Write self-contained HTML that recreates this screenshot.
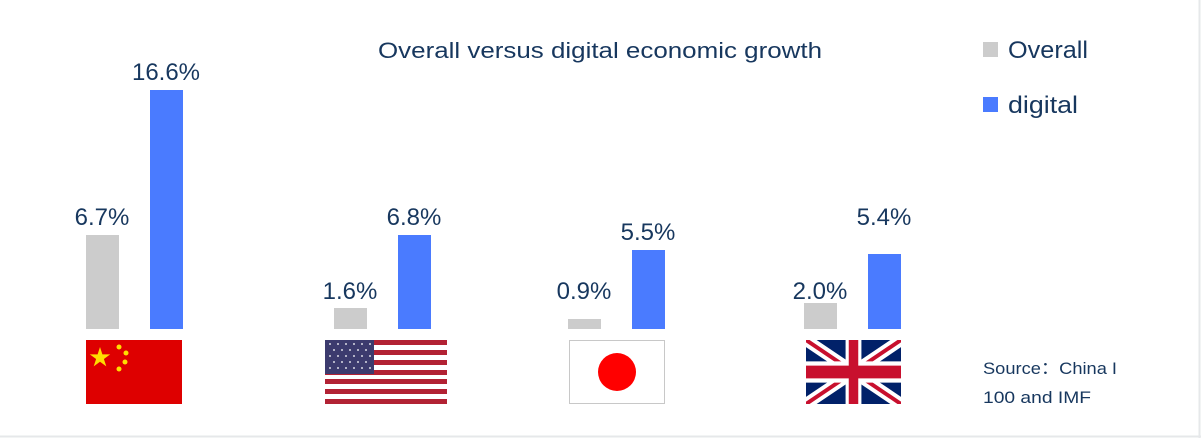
<!DOCTYPE html>
<html><head><style>
html,body{margin:0;padding:0;background:#fff;}
svg{display:block;}
text{font-family:"Liberation Sans",sans-serif;fill:#17375e;}
</style></head><body>
<svg width="1201" height="438" viewBox="0 0 1201 438" xmlns="http://www.w3.org/2000/svg">
<rect x="0" y="0" width="1201" height="438" fill="#fff"/>
<line x1="0" y1="436.5" x2="1201" y2="436.5" stroke="#e6e8ea" stroke-width="2"/>
<line x1="1199.5" y1="0" x2="1199.5" y2="438" stroke="#e6e8ea" stroke-width="2"/>
<text x="378" y="58" font-size="22" textLength="444" lengthAdjust="spacingAndGlyphs">Overall versus digital economic growth</text>
<!-- legend -->
<rect x="983" y="42" width="15" height="15" fill="#cccccc"/>
<text x="1008" y="58" font-size="24" textLength="80" lengthAdjust="spacingAndGlyphs">Overall</text>
<rect x="983" y="97" width="15" height="15" fill="#4a7bff"/>
<text x="1008" y="113" font-size="24" textLength="70" lengthAdjust="spacingAndGlyphs">digital</text>
<text x="983" y="374" font-size="17" textLength="134" lengthAdjust="spacingAndGlyphs">Source：China I</text>
<text x="983" y="403" font-size="17" textLength="108" lengthAdjust="spacingAndGlyphs">100 and IMF</text>
<!-- bars -->
<g font-size="24" text-anchor="middle">
<rect x="86" y="235" width="33" height="94" fill="#cccccc"/><text x="102" y="225">6.7%</text>
<rect x="150" y="90" width="33" height="239" fill="#4a7bff"/><text x="166" y="80">16.6%</text>
<rect x="334" y="308" width="33" height="21" fill="#cccccc"/><text x="350" y="299">1.6%</text>
<rect x="398" y="235" width="33" height="94" fill="#4a7bff"/><text x="414" y="225">6.8%</text>
<rect x="568" y="319" width="33" height="10" fill="#cccccc"/><text x="584" y="299">0.9%</text>
<rect x="632" y="250" width="33" height="79" fill="#4a7bff"/><text x="648" y="240">5.5%</text>
<rect x="804" y="303" width="33" height="26" fill="#cccccc"/><text x="820" y="299">2.0%</text>
<rect x="868" y="254" width="33" height="75" fill="#4a7bff"/><text x="884" y="225">5.4%</text>
</g>
<!-- China flag -->
<rect x="86" y="340" width="96" height="64" fill="#de0000"/>
<polygon points="100,347 102.4,354.4 110.2,354.4 103.9,359 106.3,366.4 100,361.8 93.7,366.4 96.1,359 89.8,354.4 97.6,354.4" fill="#ffde00"/>
<circle cx="119" cy="347" r="2.5" fill="#ffde00"/><circle cx="126" cy="353" r="2.5" fill="#ffde00"/>
<circle cx="125" cy="362" r="2.5" fill="#ffde00"/><circle cx="119" cy="369" r="2.5" fill="#ffde00"/>
<!-- US flag -->
<g>
<rect x="325" y="340" width="122" height="64" fill="#fff"/>
<g fill="#b22234">
<rect x="325" y="340" width="122" height="5"/><rect x="325" y="350" width="122" height="5"/>
<rect x="325" y="360" width="122" height="5"/><rect x="325" y="370" width="122" height="5"/>
<rect x="325" y="379" width="122" height="5"/><rect x="325" y="389" width="122" height="5"/>
<rect x="325" y="399" width="122" height="5"/>
</g>
<rect x="325" y="340" width="49" height="34" fill="#3c3b6e"/>
<g fill="#fff" opacity="0.8">
<circle cx="330" cy="344" r="1"/><circle cx="338" cy="344" r="1"/><circle cx="346" cy="344" r="1"/><circle cx="354" cy="344" r="1"/><circle cx="362" cy="344" r="1"/><circle cx="370" cy="344" r="1"/>
<circle cx="334" cy="350" r="1"/><circle cx="342" cy="350" r="1"/><circle cx="350" cy="350" r="1"/><circle cx="358" cy="350" r="1"/><circle cx="366" cy="350" r="1"/>
<circle cx="330" cy="356" r="1"/><circle cx="338" cy="356" r="1"/><circle cx="346" cy="356" r="1"/><circle cx="354" cy="356" r="1"/><circle cx="362" cy="356" r="1"/><circle cx="370" cy="356" r="1"/>
<circle cx="334" cy="362" r="1"/><circle cx="342" cy="362" r="1"/><circle cx="350" cy="362" r="1"/><circle cx="358" cy="362" r="1"/><circle cx="366" cy="362" r="1"/>
<circle cx="330" cy="368" r="1"/><circle cx="338" cy="368" r="1"/><circle cx="346" cy="368" r="1"/><circle cx="354" cy="368" r="1"/><circle cx="362" cy="368" r="1"/><circle cx="370" cy="368" r="1"/>
</g>
</g>
<!-- Japan flag -->
<rect x="569.5" y="340.5" width="95" height="63" fill="#fff" stroke="#c8c8c8"/>
<circle cx="617" cy="372" r="19" fill="#ff0000"/>
<!-- UK flag -->
<svg x="806" y="340" width="95" height="64" viewBox="0 0 60 30" preserveAspectRatio="none">
<rect width="60" height="30" fill="#012169"/>
<path d="M0,0 L60,30 M60,0 L0,30" stroke="#fff" stroke-width="6"/>
<path d="M0,0 L60,30 M60,0 L0,30" stroke="#c8102e" stroke-width="2"/>
<path d="M30,0 V30 M0,15 H60" stroke="#fff" stroke-width="10"/>
<path d="M30,0 V30 M0,15 H60" stroke="#c8102e" stroke-width="6"/>
</svg>
</svg>
</body></html>
